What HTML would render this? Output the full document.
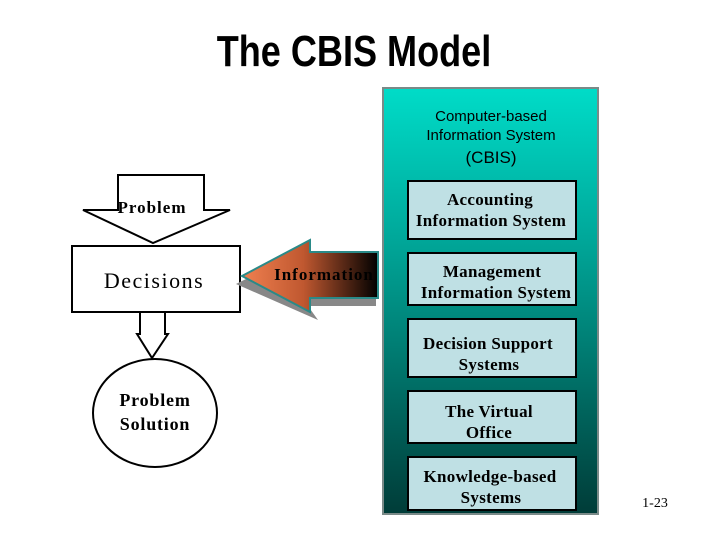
<!DOCTYPE html>
<html><head><meta charset="utf-8"><style>
body{margin:0;width:720px;height:540px;background:#fff;overflow:hidden;position:relative}
svg{position:absolute;left:0;top:0}
</style></head><body>
<svg width="720" height="540" viewBox="0 0 720 540">
<defs>
<linearGradient id="pg" x1="0" y1="0" x2="0" y2="1">
<stop offset="0" stop-color="#00dcc8"/><stop offset="0.35" stop-color="#00a89a"/><stop offset="1" stop-color="#003c38"/>
</linearGradient>
<linearGradient id="ag" x1="0" y1="0" x2="1" y2="0">
<stop offset="0" stop-color="#f08050"/><stop offset="0.45" stop-color="#c05830"/><stop offset="1" stop-color="#000"/>
</linearGradient>
</defs>
<text x="354" y="66" text-anchor="middle" font-family="'Liberation Sans Narrow','Liberation Sans',sans-serif" font-weight="bold" font-size="44" transform="translate(354,0) scale(0.82,1) translate(-354,0)">The CBIS Model</text>
<rect x="383" y="88" width="215" height="426" fill="url(#pg)" stroke="#7a8a88" stroke-width="2"/>
<g font-family="'Liberation Sans',sans-serif" text-anchor="middle" fill="#000">
<text x="491" y="121" font-size="15">Computer-based</text>
<text x="491" y="140" font-size="15">Information System</text>
<text x="491" y="163" font-size="17">(CBIS)</text>
</g>
<g fill="#bfe0e4" stroke="#000" stroke-width="2">
<rect x="408" y="181" width="168" height="58"/>
<rect x="408" y="253" width="168" height="52"/>
<rect x="408" y="319" width="168" height="58"/>
<rect x="408" y="391" width="168" height="52"/>
<rect x="408" y="457" width="168" height="53"/>
</g>
<g font-family="'Liberation Serif',serif" font-weight="bold" font-size="17" text-anchor="middle" letter-spacing="0.3">
<text x="490" y="205">Accounting</text><text x="491" y="226">Information System</text>
<text x="492" y="277">Management</text><text x="496" y="298">Information System</text>
<text x="488" y="349">Decision Support</text><text x="489" y="370">Systems</text>
<text x="489" y="417">The Virtual</text><text x="489" y="438">Office</text>
<text x="490" y="482">Knowledge-based</text><text x="491" y="503">Systems</text>
</g>
<polygon points="118,175 204,175 204,210 230,210 153,243 83,210 118,210" fill="#fff" stroke="#000" stroke-width="2"/>
<text x="152" y="213" font-family="'Liberation Serif',serif" font-weight="bold" font-size="17" letter-spacing="1" text-anchor="middle">Problem</text>
<rect x="72" y="246" width="168" height="66" fill="#fff" stroke="#000" stroke-width="2"/>
<text x="154" y="288" font-family="'Liberation Serif',serif" font-size="22" letter-spacing="1.5" text-anchor="middle">Decisions</text>
<polygon points="140,312 165,312 165,334 168,334 152,358 137,334 140,334" fill="#fff" stroke="#000" stroke-width="2"/>
<ellipse cx="155" cy="413" rx="62" ry="54" fill="#fff" stroke="#000" stroke-width="2"/>
<g font-family="'Liberation Serif',serif" font-weight="bold" font-size="18" letter-spacing="0.8" text-anchor="middle">
<text x="155" y="406">Problem</text><text x="155" y="430">Solution</text>
</g>
<polygon points="236,284 308,248 308,260 376,260 376,306 308,306 318,320" fill="#888"/>
<polygon points="242,276 310,240 310,252 378,252 378,298 310,298 310,312" fill="url(#ag)" stroke="#2a8a88" stroke-width="2"/>
<text x="324" y="280" font-family="'Liberation Serif',serif" font-weight="bold" font-size="17" letter-spacing="1" text-anchor="middle">Information</text>
<text x="655" y="507" font-family="'Liberation Serif',serif" font-size="14" text-anchor="middle">1-23</text>
</svg>
</body></html>
